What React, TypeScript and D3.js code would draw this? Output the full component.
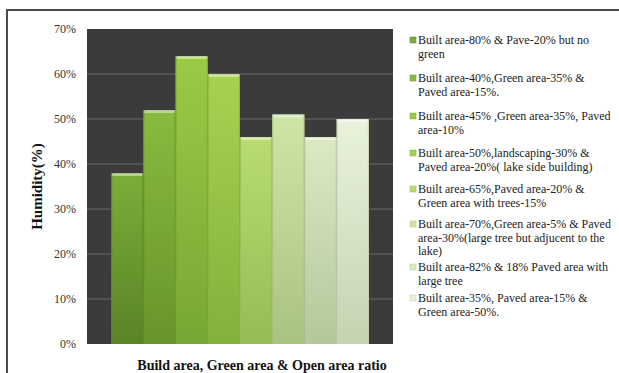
import React from "react";
import * as d3 from "d3";

const categories = [
  "Built area-80% & Pave-20% but no green",
  "Built area-40%,Green area-35% & Paved area-15%.",
  "Built area-45% ,Green area-35%, Paved area-10%",
  "Built area-50%,landscaping-30% & Paved area-20%( lake side building)",
  "Built area-65%,Paved area-20% & Green area with trees-15%",
  "Built area-70%,Green area-5% & Paved area-30%(large tree but adjucent to the lake)",
  "Built area-82%  & 18% Paved area with large tree",
  "Built area-35%, Paved area-15% & Green area-50%.",
];
const legendLines = [
  ["Built area-80% & Pave-20% but no", "green"],
  ["Built area-40%,Green area-35% &", "Paved area-15%."],
  ["Built area-45% ,Green area-35%, Paved", "area-10%"],
  ["Built area-50%,landscaping-30% &", "Paved area-20%( lake side building)"],
  ["Built area-65%,Paved area-20% &", "Green area with trees-15%"],
  ["Built area-70%,Green area-5% & Paved", "area-30%(large tree but adjucent to the", "lake)"],
  ["Built area-82%  & 18% Paved area with", "large tree"],
  ["Built area-35%, Paved area-15% &", "Green area-50%."],
];
const humidity = [38, 52, 64, 60, 46, 51, 46, 50];
const yTicks = [0, 10, 20, 30, 40, 50, 60, 70];
const topColors = ["#7dac3a", "#8aba3e", "#9cca45", "#a7d250", "#b8dc72", "#cfe5a8", "#dbeac2", "#e9f3dc"];
const bottomColors = ["#5a8426", "#68942c", "#78a634", "#84b03c", "#95bc56", "#a9c384", "#b4c79b", "#c5d3b2"];

export default function App() {
  const W = 619, H = 373;
  const plot = { left: 87, right: 393, top: 29, bottom: 344 };
  const x = d3.scaleBand<number>().domain(d3.range(humidity.length)).range([plot.left, plot.right]).paddingInner(0).paddingOuter(0.75);
  const y = d3.scaleLinear().domain([0, 70]).range([plot.bottom, plot.top]);
  const serif = "Liberation Serif, DejaVu Serif, Times New Roman, serif";

  const legendX = 418;
  const itemStarts = [44, 82, 120, 157, 193, 228, 271, 302];
  const lineH = 13.5;

  return (
    <svg width={W} height={H} style={{ position: "absolute", left: 0, top: 0, background: "#fff" }}>
      <defs>
        {humidity.map((_, i) => (
          <linearGradient key={i} id={`g${i}`} x1="0" y1="0" x2="0" y2="1">
            <stop offset="0%" stopColor={topColors[i]} />
            <stop offset="100%" stopColor={bottomColors[i]} />
          </linearGradient>
        ))}
      </defs>
      <rect x={0} y={0} width={W} height={H} fill="#fff" />
      <rect x={7} y={10} width={W} height={H} fill="none" stroke="#4a4a4a" strokeWidth={2} />
      <rect x={plot.left} y={plot.top} width={plot.right - plot.left} height={plot.bottom - plot.top} fill="#3b3b3b" />
      {yTicks.slice(1, -1).map((t) => (
        <line key={t} x1={plot.left} x2={plot.right} y1={y(t)} y2={y(t)} stroke="#6a6a6a" strokeWidth={1} />
      ))}
      {humidity.map((v, i) => {
        const bx = x(i)!;
        const bw = x.bandwidth();
        return (
          <g key={i}>
            <rect x={bx} y={y(v)} width={bw} height={y(0) - y(v)} fill={`url(#g${i})`} />
            <rect x={bx + 0.5} y={y(v) + 0.5} width={bw - 1} height={y(0) - y(v) - 1} fill="none" stroke={bottomColors[i]} strokeOpacity={0.8} strokeWidth={1} />
            <rect x={bx + 1} y={y(v)} width={bw - 2} height={3} fill="#ffffff" fillOpacity={0.45} />
          </g>
        );
      })}
      <g style={{ fontFamily: serif }}>
        {yTicks.map((t) => (
          <text key={t} x={76} y={y(t) + 4} textAnchor="end" fontSize={12} fill="#333">
            {t}%
          </text>
        ))}
        <text transform={`translate(42,${(plot.top + plot.bottom) / 2}) rotate(-90)`} textAnchor="middle" fontSize={15} fontWeight="bold" fill="#111">
          Humidity(%)
        </text>
        <text x={262} y={370} textAnchor="middle" fontSize={14} fontWeight="bold" fill="#111">
          Build area, Green area &amp; Open area ratio
        </text>
        {legendLines.map((lines, i) => (
          <g key={i}>
            <rect x={410} y={itemStarts[i] - 7} width={6} height={6} fill={topColors[i]} stroke={bottomColors[i]} strokeWidth={0.5} />
            {lines.map((l, j) => (
              <text key={j} x={legendX} y={itemStarts[i] + j * lineH} fontSize={12} fill="#222">
                {l}
              </text>
            ))}
          </g>
        ))}
      </g>
    </svg>
  );
}
